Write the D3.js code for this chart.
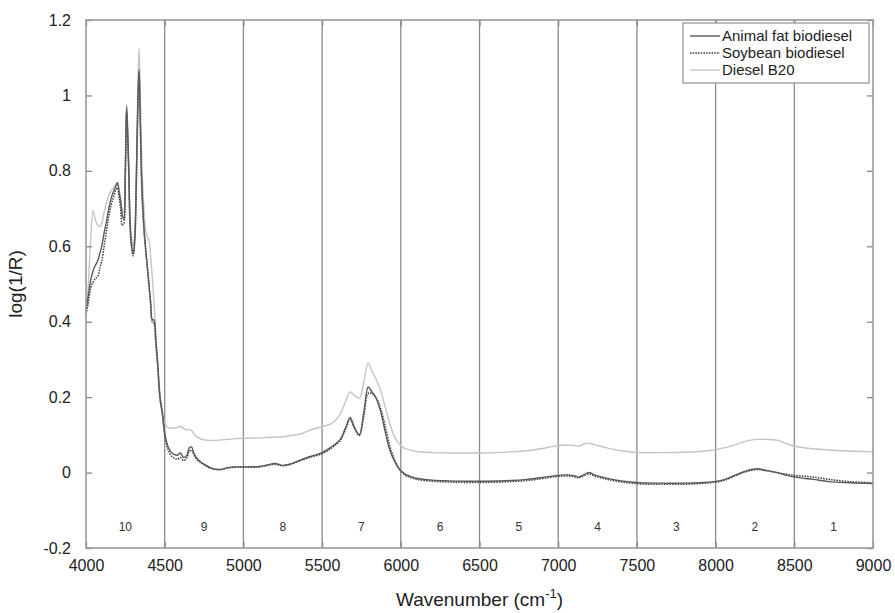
<!DOCTYPE html>
<html>
<head>
<meta charset="utf-8">
<script src="https://cdn.jsdelivr.net/npm/d3@7"></script>
<style>
  body { margin: 0; background: #fff; }
  svg { font-family: "Liberation Sans", Arial, sans-serif; }
</style>
</head>
<body>
<div id="chart"></div>
<script>
// wavenumber grid (cm-1) shared by the three spectra
var wavenumbers = [4000, 4015, 4030, 4045, 4060, 4075, 4090, 4100, 4115, 4130, 4145, 4160, 4175, 4190, 4200, 4210, 4220, 4230, 4240, 4250,
  4258, 4265, 4272, 4280, 4290, 4300, 4310, 4320, 4328, 4337, 4345, 4355, 4368, 4380, 4390, 4400, 4411, 4421, 4432, 4443,
  4455, 4470, 4485, 4500, 4520, 4540, 4560, 4580, 4600, 4620, 4640, 4655, 4670, 4685, 4700, 4730, 4760, 4800, 4850, 4900,
  4950, 5000, 5100, 5150, 5200, 5250, 5300, 5360, 5420, 5500, 5560, 5615, 5650, 5678, 5705, 5736, 5765, 5793, 5815, 5840,
  5870, 5900, 5930, 5960, 5985, 6000, 6010, 6030, 6060, 6100, 6200, 6300, 6400, 6540, 6700, 6800, 6900, 6980, 7050, 7100,
  7130, 7160, 7195, 7230, 7300, 7400, 7520, 7650, 7800, 7900, 7990, 8060, 8140, 8200, 8265, 8320, 8390, 8460, 8540, 8620,
  8720, 8850, 9000];

var animalFat = [0.43, 0.47, 0.51, 0.535, 0.55, 0.562, 0.585, 0.60, 0.635, 0.665, 0.70, 0.727, 0.745, 0.76, 0.768, 0.745, 0.72, 0.685, 0.67, 0.80,
  0.97, 0.90, 0.80, 0.66, 0.60, 0.58, 0.62, 0.78, 0.95, 1.068, 0.93, 0.76, 0.65, 0.59, 0.545, 0.50, 0.45, 0.405, 0.405, 0.352,
  0.29, 0.20, 0.158, 0.105, 0.07, 0.055, 0.048, 0.046, 0.052, 0.04, 0.045, 0.065, 0.068, 0.052, 0.04, 0.028, 0.02, 0.011, 0.008, 0.013,
  0.015, 0.015, 0.016, 0.02, 0.024, 0.019, 0.023, 0.033, 0.042, 0.053, 0.068, 0.088, 0.12, 0.146, 0.12, 0.10, 0.16, 0.227, 0.215, 0.2,
  0.165, 0.11, 0.06, 0.03, 0.012, 0.005, 0.002, -0.005, -0.01, -0.015, -0.02, -0.022, -0.023, -0.023, -0.021, -0.018, -0.013, -0.008, -0.006, -0.008,
  -0.012, -0.006, 0.0, -0.006, -0.014, -0.022, -0.027, -0.028, -0.028, -0.027, -0.024, -0.018, -0.004, 0.005, 0.01, 0.006, 0.0, -0.008, -0.014, -0.018,
  -0.024, -0.027, -0.029];

var soybean = [0.42, 0.45, 0.49, 0.505, 0.515, 0.52, 0.545, 0.56, 0.60, 0.64, 0.68, 0.71, 0.73, 0.75, 0.755, 0.73, 0.70, 0.655, 0.66, 0.79,
  0.955, 0.89, 0.79, 0.65, 0.595, 0.575, 0.615, 0.77, 0.94, 1.06, 0.92, 0.75, 0.645, 0.585, 0.54, 0.495, 0.445, 0.40, 0.395, 0.345,
  0.285, 0.195, 0.155, 0.10, 0.062, 0.045, 0.038, 0.035, 0.04, 0.032, 0.038, 0.055, 0.06, 0.047, 0.036, 0.026, 0.018, 0.01, 0.008, 0.012,
  0.014, 0.014, 0.015, 0.019, 0.022, 0.018, 0.022, 0.031, 0.04, 0.05, 0.065, 0.085, 0.115, 0.14, 0.118, 0.098, 0.15, 0.21, 0.21, 0.2,
  0.172, 0.125, 0.07, 0.035, 0.014, 0.004, 0.0, -0.008, -0.013, -0.018, -0.023, -0.025, -0.026, -0.026, -0.024, -0.021, -0.016, -0.011, -0.009, -0.011,
  -0.014, -0.009, -0.004, -0.009, -0.017, -0.025, -0.03, -0.031, -0.031, -0.029, -0.026, -0.02, -0.006, 0.003, 0.008, 0.005, 0.0, -0.005, -0.009, -0.012,
  -0.018, -0.024, -0.027];

var dieselB20 = [0.42, 0.5, 0.62, 0.695, 0.67, 0.655, 0.652, 0.66, 0.69, 0.715, 0.735, 0.748, 0.755, 0.765, 0.77, 0.75, 0.725, 0.70, 0.69, 0.82,
  0.975, 0.91, 0.81, 0.68, 0.62, 0.60, 0.64, 0.81, 1.0, 1.126, 1.0, 0.82, 0.70, 0.64, 0.625, 0.617, 0.57, 0.52, 0.45, 0.37,
  0.30, 0.21, 0.165, 0.13, 0.12, 0.118, 0.118, 0.12, 0.122, 0.117, 0.113, 0.114, 0.112, 0.104, 0.096, 0.089, 0.086, 0.085, 0.086, 0.088,
  0.09, 0.091, 0.092, 0.093, 0.094, 0.095, 0.098, 0.102, 0.112, 0.122, 0.13, 0.155, 0.19, 0.214, 0.205, 0.197, 0.24, 0.29, 0.27, 0.25,
  0.22, 0.175, 0.13, 0.095, 0.078, 0.072, 0.068, 0.063, 0.06, 0.056, 0.053, 0.052, 0.052, 0.052, 0.055, 0.058, 0.064, 0.07, 0.073, 0.072,
  0.07, 0.075, 0.078, 0.074, 0.066, 0.058, 0.053, 0.053, 0.054, 0.056, 0.06, 0.066, 0.076, 0.084, 0.088, 0.088, 0.086, 0.075, 0.067, 0.063,
  0.06, 0.057, 0.055];

var xTicks = [4000, 4500, 5000, 5500, 6000, 6500, 7000, 7500, 8000, 8500, 9000];
var yTicks = [-0.2, 0, 0.2, 0.4, 0.6, 0.8, 1, 1.2];
var regionLabels = ["10", "9", "8", "7", "6", "5", "4", "3", "2", "1"];
var seriesNames = ["Animal fat biodiesel", "Soybean biodiesel", "Diesel B20"];

var W = 895, H = 613;
var margin = {top: 20, right: 22, bottom: 65, left: 86};
var width = W - margin.left - margin.right;
var height = H - margin.top - margin.bottom;

var svg = d3.select("#chart").append("svg")
  .attr("width", W)
  .attr("height", H);

var g = svg.append("g")
  .attr("transform", "translate(" + margin.left + "," + margin.top + ")");

var x = d3.scaleLinear().domain([4000, 9000]).range([0, width]);
var y = d3.scaleLinear().domain([-0.2, 1.2]).range([height, 0]);

// region separators
g.selectAll("line.sep")
  .data(xTicks.slice(1, -1))
  .enter().append("line")
  .attr("class", "sep")
  .attr("x1", function(d) { return x(d); })
  .attr("x2", function(d) { return x(d); })
  .attr("y1", 0)
  .attr("y2", height)
  .attr("stroke", "#8a8a8a")
  .attr("stroke-width", 1.3);

// region numbers
g.selectAll("text.region")
  .data(regionLabels)
  .enter().append("text")
  .attr("class", "region")
  .attr("x", function(d, i) { return x(4250 + i * 500); })
  .attr("y", height - 17)
  .attr("text-anchor", "middle")
  .attr("font-size", 12)
  .attr("fill", "#333")
  .text(function(d) { return d; });

// spectra
var styles = [
  {data: dieselB20, color: "#c4c4c4", dash: null, w: 1.4},
  {data: soybean, color: "#3a3a3a", dash: "1.5,1.2", w: 1.5},
  {data: animalFat, color: "#5a5a5a", dash: null, w: 1.4}
];

var line = d3.line()
  .x(function(d) { return x(d[0]); })
  .y(function(d) { return y(d[1]); })
  .curve(d3.curveCatmullRom.alpha(0.5));

styles.forEach(function(s) {
  g.append("path")
    .datum(wavenumbers.map(function(wn, i) { return [wn, s.data[i]]; }))
    .attr("fill", "none")
    .attr("stroke", s.color)
    .attr("stroke-width", s.w)
    .attr("stroke-dasharray", s.dash)
    .attr("d", line);
});

// axes with inward ticks on all four sides
var tickStyle = function(sel) {
  sel.select(".domain").remove();
  sel.selectAll(".tick line").attr("stroke", "#888").attr("stroke-width", 1.3);
  sel.selectAll(".tick text").attr("fill", "#222").attr("font-size", 16)
    .attr("font-family", "'Liberation Sans', Arial, sans-serif");
};

g.append("g")
  .attr("transform", "translate(0," + height + ")")
  .call(d3.axisBottom(x).tickValues(xTicks).tickSize(-6).tickPadding(12).tickFormat(d3.format("d")))
  .call(tickStyle);

g.append("g")
  .call(d3.axisTop(x).tickValues(xTicks).tickSize(-6).tickFormat(""))
  .call(tickStyle);

g.append("g")
  .call(d3.axisLeft(y).tickValues(yTicks).tickSize(-6).tickPadding(15)
    .tickFormat(function(d) { return String(+d.toFixed(1)); }))
  .call(tickStyle);

g.append("g")
  .attr("transform", "translate(" + width + ",0)")
  .call(d3.axisRight(y).tickValues(yTicks).tickSize(-6).tickFormat(""))
  .call(tickStyle);

// frame
g.append("rect")
  .attr("width", width)
  .attr("height", height)
  .attr("fill", "none")
  .attr("stroke", "#999")
  .attr("stroke-width", 1.6);

// axis titles
svg.append("text")
  .attr("transform", "translate(22," + (margin.top + height / 2) + ") rotate(-90)")
  .attr("text-anchor", "middle")
  .attr("font-size", 19)
  .attr("fill", "#222")
  .text("log(1/R)");

var xt = svg.append("text")
  .attr("x", margin.left + width / 2)
  .attr("y", 606)
  .attr("text-anchor", "middle")
  .attr("font-size", 19)
  .attr("fill", "#222");
xt.append("tspan").text("Wavenumber (cm");
xt.append("tspan").attr("font-size", 13).attr("dy", -8).text("-1");
xt.append("tspan").attr("dy", 8).text(")");

// legend
var lg = g.append("g").attr("transform", "translate(" + (width - 190) + ",3)");
lg.append("rect")
  .attr("width", 186)
  .attr("height", 60)
  .attr("fill", "#fff")
  .attr("stroke", "#999")
  .attr("stroke-width", 1.3);

var legendStyles = [styles[2], styles[1], styles[0]];
var rows = lg.selectAll("g.row")
  .data(seriesNames)
  .enter().append("g")
  .attr("class", "row")
  .attr("transform", function(d, i) { return "translate(0," + (13 + i * 17) + ")"; });

rows.append("line")
  .attr("x1", 7).attr("x2", 37)
  .attr("stroke", function(d, i) { return legendStyles[i].color; })
  .attr("stroke-width", 1.4)
  .attr("stroke-dasharray", function(d, i) { return legendStyles[i].dash; });

rows.append("text")
  .attr("x", 39)
  .attr("dy", "0.35em")
  .attr("font-size", 15)
  .attr("fill", "#222")
  .text(function(d) { return d; });
</script>
</body>
</html>
